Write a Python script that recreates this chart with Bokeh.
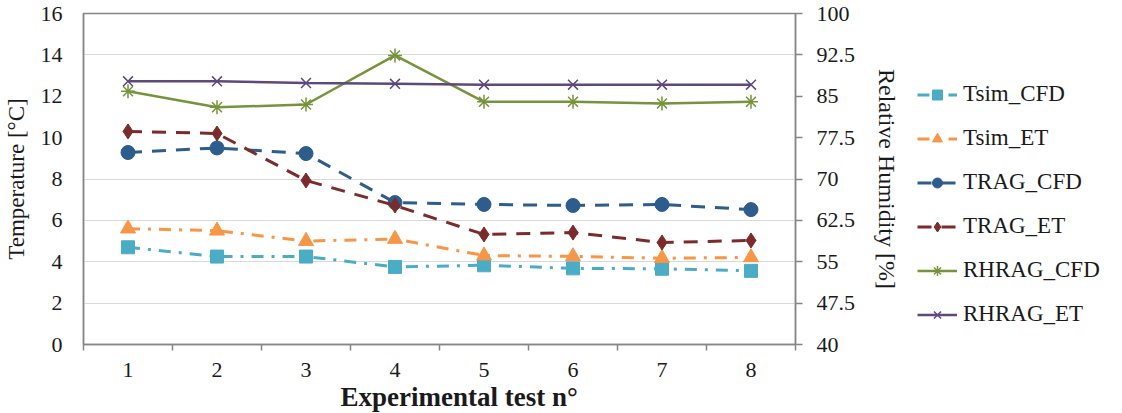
from bokeh.plotting import figure
from bokeh.layouts import row
from bokeh.models import (Range1d, LinearAxis, FixedTicker, Legend, LegendItem,
                          NumeralTickFormatter, Title)
from bokeh.embed import file_html
from bokeh.resources import INLINE

# ---------------- data ----------------
tests = [1, 2, 3, 4, 5, 6, 7, 8]
test_labels = ["1", "2", "3", "4", "5", "6", "7", "8"]

tsim_cfd = [4.70, 4.25, 4.25, 3.75, 3.83, 3.68, 3.66, 3.56]
tsim_et = [5.60, 5.50, 5.00, 5.10, 4.30, 4.26, 4.17, 4.21]
trag_cfd = [9.28, 9.50, 9.23, 6.86, 6.77, 6.72, 6.77, 6.52]
trag_et = [10.30, 10.20, 7.93, 6.72, 5.32, 5.41, 4.93, 5.03]
rhrag_cfd = [85.9, 83.0, 83.5, 92.4, 84.0, 84.0, 83.7, 84.0]
rhrag_et = [87.7, 87.7, 87.4, 87.25, 87.1, 87.1, 87.1, 87.1]

series_names = ["Tsim_CFD", "Tsim_ET", "TRAG_CFD", "TRAG_ET", "RHRAG_CFD", "RHRAG_ET"]

temp_ticks = [0, 2, 4, 6, 8, 10, 12, 14, 16]
rh_ticks = [40, 47.5, 55, 62.5, 70, 77.5, 85, 92.5, 100]
grid_ticks = [2, 4, 6, 8, 14]
boundary_ticks = [0.5, 1.5, 2.5, 3.5, 4.5, 5.5, 6.5, 7.5, 8.5]

FONT = "Liberation Serif"
AXIS_COLOR = "#868686"
TEXT_COLOR = "#1a1a1a"

# style of each series: (colour, dash, marker, size, line width)
styles = [
    ("#4BACC6", "12 8 3 8", "square", 13, 3),
    ("#F79646", "12 8 3 8", "triangle", 15, 3),
    ("#2C5D8C", "14 10", "circle", 14, 3),
    ("#7B2B2B", "14 10", "diamond", 15, 3),
    ("#77933C", "solid", "asterisk", 14, 2.5),
    ("#5F497A", "solid", "x", 14, 2.5),
]

p = figure(width=905, height=413, output_backend="svg", toolbar_location=None,
           x_range=Range1d(0.5, 8.5), y_range=Range1d(0, 16),
           min_border_left=83, min_border_right=110, min_border_top=13,
           min_border_bottom=69, outline_line_color=AXIS_COLOR,
           outline_line_width=1.5)
p.extra_y_ranges = {"rh": Range1d(40, 100)}

# x axis
xa = p.xaxis[0]
xa.ticker = FixedTicker(ticks=tests, minor_ticks=boundary_ticks)
xa.major_label_overrides = {t: l for t, l in zip(tests, test_labels)}
xa.major_tick_out = 0
xa.major_tick_in = 0
xa.minor_tick_out = 6
xa.minor_tick_in = 0
xa.minor_tick_line_color = AXIS_COLOR
xa.minor_tick_line_width = 1.5
xa.major_label_standoff = 12
xa.axis_line_color = AXIS_COLOR
xa.axis_line_width = 1.5
xa.major_label_text_font = FONT
xa.major_label_text_font_size = "22px"
xa.major_label_text_color = TEXT_COLOR

# left axis
ya = p.yaxis[0]
ya.ticker = FixedTicker(ticks=temp_ticks)
ya.major_tick_out = 0
ya.major_tick_in = 0
ya.minor_tick_out = 0
ya.minor_tick_in = 0
ya.major_label_standoff = 21
ya.axis_line_color = AXIS_COLOR
ya.axis_line_width = 1.5
ya.major_label_text_font = FONT
ya.major_label_text_font_size = "22px"
ya.major_label_text_color = TEXT_COLOR
ya.axis_label = "Temperature [°C]"
ya.axis_label_text_font = FONT
ya.axis_label_text_font_size = "23px"
ya.axis_label_text_font_style = "normal"
ya.axis_label_text_color = TEXT_COLOR
ya.axis_label_standoff = 9

# right axis
ra = LinearAxis(y_range_name="rh", ticker=FixedTicker(ticks=rh_ticks),
                formatter=NumeralTickFormatter(format="0.[0]"))
ra.major_tick_out = 7
ra.major_tick_in = 0
ra.minor_tick_out = 0
ra.minor_tick_in = 0
ra.major_tick_line_color = AXIS_COLOR
ra.major_tick_line_width = 1.5
ra.major_label_standoff = 14
ra.axis_line_color = AXIS_COLOR
ra.axis_line_width = 1.5
ra.major_label_text_font = FONT
ra.major_label_text_font_size = "22px"
ra.major_label_text_color = TEXT_COLOR
ra.axis_label = "Relative Humidity [%]"
ra.axis_label_text_font = FONT
ra.axis_label_text_font_size = "24px"
ra.axis_label_text_font_style = "normal"
ra.axis_label_text_color = TEXT_COLOR
ra.axis_label_standoff = 16
p.add_layout(ra, "right")

# x title
xt = Title(text="Experimental test n°", align="left", offset=257, standoff=0,
           text_font=FONT, text_font_size="27px", text_font_style="bold",
           text_color=TEXT_COLOR)
p.add_layout(xt, "below")

# grid
p.xgrid.grid_line_color = None
p.ygrid.ticker = FixedTicker(ticks=grid_ticks)
p.ygrid.grid_line_color = "#d9d9d9"
p.ygrid.grid_line_width = 1.2

# ---------------- series ----------------
all_values = [tsim_cfd, tsim_et, trag_cfd, trag_et, rhrag_cfd, rhrag_et]
on_right = [False, False, False, False, True, True]

# legend panel: same series, drawn outside its visible ranges, only the legend shows
lg = figure(width=217, height=413, output_backend="svg", toolbar_location=None,
            x_axis_type=None, y_axis_type=None, outline_line_color=None,
            min_border=0, x_range=Range1d(-200, -100), y_range=Range1d(-200, -100))
lg.xgrid.grid_line_color = None
lg.ygrid.grid_line_color = None

items = []
for name, vals, right, (col, dash, mk, sz, lw) in zip(series_names, all_values, on_right, styles):
    kw = {"y_range_name": "rh"} if right else {}
    p.line(tests, vals, line_color=col, line_width=lw, line_dash=dash, **kw)
    if mk in ("asterisk", "x"):
        p.scatter(tests, vals, marker=mk, size=sz, line_color=col, line_width=1.5, **kw)
    else:
        p.scatter(tests, vals, marker=mk, size=sz, fill_color=col, line_color=col, **kw)
    ll = lg.line(tests, vals, line_color=col, line_width=lw, line_dash=dash)
    if mk in ("asterisk", "x"):
        lm = lg.scatter(tests, vals, marker=mk, size=sz, line_color=col, line_width=1.5)
    else:
        lm = lg.scatter(tests, vals, marker=mk, size=sz, fill_color=col, line_color=col)
    items.append(LegendItem(label=name, renderers=[ll, lm]))

legend = Legend(items=items, location=(12, 17), margin=0, padding=0,
                glyph_width=40, glyph_height=25, label_height=25, spacing=18,
                label_standoff=6, border_line_color=None, background_fill_alpha=0,
                label_text_font=FONT, label_text_font_size="23px",
                label_text_color=TEXT_COLOR)
lg.add_layout(legend)

layout = row(p, lg)
open("out.html", "w").write(file_html(layout, INLINE))
